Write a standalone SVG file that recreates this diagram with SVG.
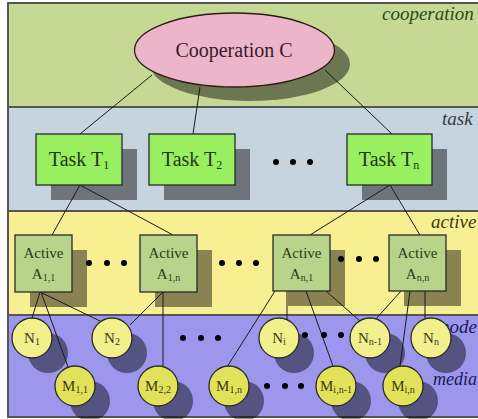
<svg xmlns="http://www.w3.org/2000/svg" width="478" height="419" viewBox="0 0 478 419">
<style>
.band{stroke:#555;stroke-width:2}
.lbl{font-family:"Liberation Serif","Times New Roman",serif;font-style:italic;font-size:19px}
.sh{fill:#000;fill-opacity:0.45}
.task rect{fill:#99ef60;stroke:#2a2a2a;stroke-width:1.3}
.task text{font-family:"Liberation Serif","Times New Roman",serif;font-size:20px;fill:#1e3a14;text-anchor:middle}
.act rect{fill:#b7d48a;stroke:#2a2a2a;stroke-width:1.3}
.act text{font-family:"Liberation Serif","Times New Roman",serif;font-size:15px;fill:#2e3a1a;text-anchor:middle}
.nd circle{fill:#f2f08c;stroke:#2a2a2a;stroke-width:1.3}
.md circle{fill:#e2e25a;stroke:#2a2a2a;stroke-width:1.3}
.nd text,.md text{font-family:"Liberation Serif","Times New Roman",serif;font-size:15px;fill:#3a3a10;text-anchor:middle}
#connectors line{stroke:#1a1a1a;stroke-width:1}
.dots circle{fill:#000}
</style>
<!-- bands -->
<rect class="band" x="8" y="3" width="475" height="104" fill="#c5d994"/>
<rect class="band" x="8" y="107" width="475" height="104" fill="#c6d4e0"/>
<rect class="band" x="8" y="211" width="475" height="104" fill="#f8ef92"/>
<rect class="band" x="8" y="315" width="475" height="102" fill="#9c97ec"/>
<!-- band labels -->
<text class="lbl" x="382" y="20" fill="#2a4a1a">cooperation</text>
<text class="lbl" x="442" y="125" fill="#333844">task</text>
<text class="lbl" x="431" y="228" fill="#3a3a14">active</text>
<text class="lbl" x="440" y="333" fill="#1a1a5a">node</text>
<text class="lbl" x="433" y="385" font-size="18" style="font-size:18px" fill="#1a1a5a">media</text>
<!-- shadows -->
<g id="shadows">
<ellipse class="sh" cx="250" cy="64" rx="100" ry="37"/>
<rect class="sh" x="51" y="149" width="86" height="51"/>
<rect class="sh" x="164" y="149" width="86" height="51"/>
<rect class="sh" x="362" y="149" width="85" height="51"/>
<rect class="sh" x="30" y="250" width="57" height="57"/>
<rect class="sh" x="155" y="250" width="57" height="57"/>
<rect class="sh" x="288" y="250" width="57" height="56"/>
<rect class="sh" x="404" y="250" width="57" height="56"/>
<circle class="sh" cx="48" cy="353" r="20"/>
<circle class="sh" cx="127" cy="353" r="20"/>
<circle class="sh" cx="294" cy="353" r="20"/>
<circle class="sh" cx="385" cy="353" r="20"/>
<circle class="sh" cx="446" cy="353" r="20"/>
<circle class="sh" cx="90" cy="401" r="20"/>
<circle class="sh" cx="173" cy="401" r="20"/>
<circle class="sh" cx="244" cy="401" r="20"/>
<circle class="sh" cx="351" cy="401" r="20"/>
<circle class="sh" cx="418" cy="401" r="20"/>
</g>
<!-- connectors -->
<g id="connectors">
<line x1="152" y1="75" x2="80" y2="134"/>
<line x1="200" y1="87" x2="193" y2="134"/>
<line x1="325" y1="70" x2="392" y2="134"/>
<line x1="80" y1="185" x2="52" y2="235"/>
<line x1="80" y1="185" x2="173" y2="235"/>
<line x1="390" y1="185" x2="310" y2="235"/>
<line x1="390" y1="185" x2="420" y2="235"/>
<line x1="40" y1="292" x2="32" y2="318"/>
<line x1="41" y1="292" x2="68" y2="367"/>
<line x1="40" y1="292" x2="100" y2="321"/>
<line x1="163" y1="292" x2="130" y2="325"/>
<line x1="163" y1="292" x2="163" y2="367"/>
<line x1="275" y1="291" x2="227" y2="367"/>
<line x1="287" y1="291" x2="287" y2="320"/>
<line x1="306" y1="291" x2="333" y2="366"/>
<line x1="326" y1="291" x2="360" y2="321"/>
<line x1="401" y1="291" x2="375" y2="320"/>
<line x1="410" y1="291" x2="400" y2="366"/>
<line x1="425" y1="291" x2="425" y2="319"/>
</g>
<!-- ellipsis dots -->
<g class="dots">
<circle cx="276" cy="162" r="3"/><circle cx="293" cy="162" r="3"/><circle cx="310" cy="162" r="3"/>
<circle cx="89" cy="263" r="3"/><circle cx="107" cy="263" r="3"/><circle cx="124" cy="263" r="3"/>
<circle cx="222" cy="263" r="3"/><circle cx="239" cy="263" r="3"/><circle cx="256" cy="263" r="3"/>
<circle cx="341" cy="259" r="3"/><circle cx="359" cy="259" r="3"/><circle cx="376" cy="259" r="3"/>
<circle cx="183" cy="338" r="3"/><circle cx="201" cy="338" r="3"/><circle cx="218" cy="338" r="3"/>
<circle cx="305" cy="335" r="3"/><circle cx="324" cy="335" r="3"/><circle cx="341" cy="335" r="3"/>
<circle cx="267" cy="386" r="3"/><circle cx="285" cy="386" r="3"/><circle cx="301" cy="386" r="3"/>
</g>
<!-- nodes -->
<g id="cooperation">
<ellipse cx="234.5" cy="50" rx="100" ry="37" fill="#edb5c9" stroke="#2a1a1a" stroke-width="1.3"/>
<text x="234" y="57" font-family="Liberation Serif, Times New Roman, serif" font-size="20" fill="#3a1a2a" text-anchor="middle">Cooperation C</text>
</g>
<g id="task1" class="task"><rect x="36" y="134" width="86" height="51"/><text x="79" y="166">Task T<tspan font-size="12" dy="3">1</tspan></text></g>
<g id="task2" class="task"><rect x="149" y="134" width="86" height="51"/><text x="192" y="166">Task T<tspan font-size="12" dy="3">2</tspan></text></g>
<g id="taskn" class="task"><rect x="347" y="134" width="85" height="51"/><text x="389" y="166">Task T<tspan font-size="12" dy="3">n</tspan></text></g>
<g id="a11" class="act"><rect x="15" y="235" width="57" height="57"/><text x="43.5" y="258">Active</text><text x="43.5" y="279">A<tspan font-size="10" dy="2">1,1</tspan></text></g>
<g id="a1n" class="act"><rect x="140" y="235" width="57" height="57"/><text x="168.5" y="258">Active</text><text x="168.5" y="279">A<tspan font-size="10" dy="2">1,n</tspan></text></g>
<g id="an1" class="act"><rect x="273" y="235" width="57" height="56"/><text x="301.5" y="258">Active</text><text x="301.5" y="279">A<tspan font-size="10" dy="2">n,1</tspan></text></g>
<g id="ann" class="act"><rect x="389" y="235" width="57" height="56"/><text x="417.5" y="258">Active</text><text x="417.5" y="279">A<tspan font-size="10" dy="2">n,n</tspan></text></g>
<g id="n1" class="nd"><circle cx="32" cy="338" r="20"/><text x="32" y="343">N<tspan font-size="10" dy="2">1</tspan></text></g>
<g id="n2" class="nd"><circle cx="112" cy="338" r="20"/><text x="112" y="343">N<tspan font-size="10" dy="2">2</tspan></text></g>
<g id="ni" class="nd"><circle cx="279" cy="338" r="20"/><text x="279" y="343">N<tspan font-size="10" dy="2">i</tspan></text></g>
<g id="nn1" class="nd"><circle cx="370" cy="338" r="20"/><text x="370" y="343">N<tspan font-size="10" dy="2">n-1</tspan></text></g>
<g id="nn" class="nd"><circle cx="431" cy="338" r="20"/><text x="431" y="343">N<tspan font-size="10" dy="2">n</tspan></text></g>
<g id="m11" class="md"><circle cx="75" cy="386" r="20"/><text x="75" y="391">M<tspan font-size="10" dy="2">1,1</tspan></text></g>
<g id="m22" class="md"><circle cx="158" cy="386" r="20"/><text x="158" y="391">M<tspan font-size="10" dy="2">2,2</tspan></text></g>
<g id="m1n" class="md"><circle cx="229" cy="386" r="20"/><text x="229" y="391">M<tspan font-size="10" dy="2">1,n</tspan></text></g>
<g id="min1" class="md"><circle cx="336" cy="386" r="20"/><text x="336" y="391">M<tspan font-size="10" dy="2">i,n-1</tspan></text></g>
<g id="min" class="md"><circle cx="403" cy="386" r="20"/><text x="403" y="391">M<tspan font-size="10" dy="2">i,n</tspan></text></g>
</svg>
